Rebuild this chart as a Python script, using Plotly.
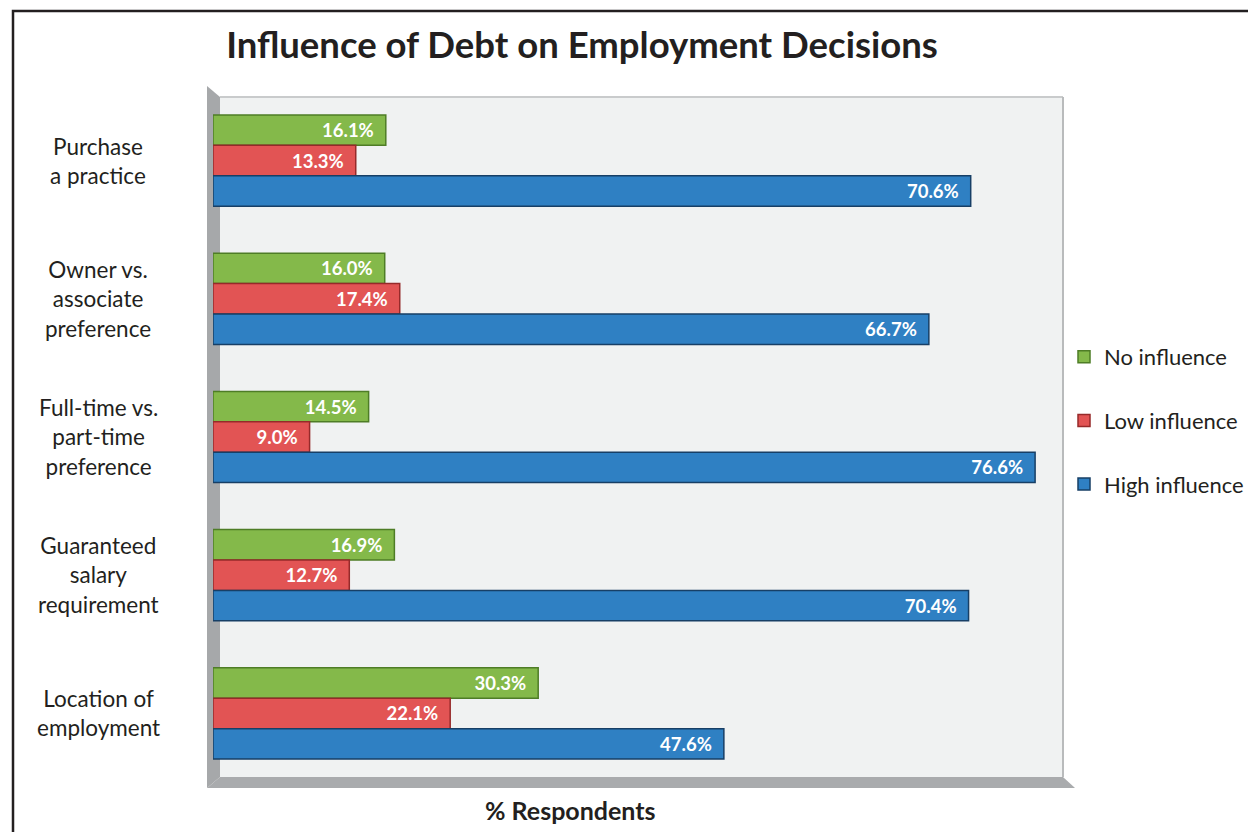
import plotly.graph_objects as go

categories = ["Purchase a practice", "Owner vs. associate preference",
              "Full-time vs. part-time preference", "Guaranteed salary requirement",
              "Location of employment"]
category_labels = ["Purchase<br>a practice", "Owner vs.<br>associate<br>preference",
                   "Full-time vs.<br>part-time<br>preference", "Guaranteed<br>salary<br>requirement",
                   "Location of<br>employment"]
no_influence = [16.1, 16.0, 14.5, 16.9, 30.3]
low_influence = [13.3, 17.4, 9.0, 12.7, 22.1]
high_influence = [70.6, 66.7, 76.6, 70.4, 47.6]
series_names = ["No influence", "Low influence", "High influence"]

FONT = "Lato"
W, H = 1248, 832
L, R, T, B = 213, 1063, 97, 777  # plot area in pixels


def px(x):
    return (x - L) / (R - L)


def py(y):
    return (B - y) / (B - T)


fig = go.Figure()
styles = [("#84b94a", "#4e7d26"), ("#e25454", "#962a2a"), ("#2f80c3", "#173f66")]
for name, vals, (fill, edge) in zip(series_names, [no_influence, low_influence, high_influence], styles):
    fig.add_trace(go.Bar(
        y=categories, x=vals, name=name, orientation="h",
        marker=dict(color=fill, line=dict(color=edge, width=1.5)),
        text=[f"{v:.1f}%\u00a0\u00a0" for v in vals],
        textposition="inside", insidetextanchor="end",
        textfont=dict(family=FONT, size=18.5, color="white", weight="bold"),
        legendgroup=name, hoverinfo="x+name",
    ))

shapes = [
    # outer frame
    dict(type="rect", xref="paper", yref="paper", x0=px(13), x1=px(1290), y0=py(860), y1=py(11),
         line=dict(color="#231f20", width=2.5), layer="below"),
    # side wall
    dict(type="path", xref="paper", yref="paper",
         path=f"M {px(207)},{py(86)} L {px(220)},{py(97)} L {px(220)},{py(777)} L {px(207)},{py(788)} Z",
         fillcolor="#a6a8aa", line=dict(width=0), layer="below"),
    # floor
    dict(type="path", xref="paper", yref="paper",
         path=f"M {px(207)},{py(788)} L {px(220)},{py(777)} L {px(1063)},{py(777)} L {px(1075)},{py(788)} Z",
         fillcolor="#a9abad", line=dict(width=0), layer="below"),
    # back wall edges
    dict(type="line", xref="paper", yref="paper", x0=px(220), x1=px(1063), y0=1, y1=1,
         line=dict(color="#c9cbcc", width=2)),
    dict(type="line", xref="paper", yref="paper", x0=1, x1=1, y0=0, y1=1,
         line=dict(color="#b9bbbc", width=2)),
]

annotations = [
    dict(xref="paper", yref="y", x=px(98), y=c, text=lab, showarrow=False,
         xanchor="center", yanchor="middle", align="center",
         font=dict(family=FONT, size=22.5, color="#231f20"))
    for c, lab in zip(categories, category_labels)
]
annotations.append(dict(xref="paper", yref="paper", x=px(570), y=py(810), text="<b>% Respondents</b>",
                        showarrow=False, xanchor="center", yanchor="middle",
                        font=dict(family=FONT, size=25, color="#231f20")))

fig.update_layout(
    width=W, height=H,
    margin=dict(l=L, r=W - R, t=T, b=H - B, pad=0, autoexpand=False),
    paper_bgcolor="white", plot_bgcolor="#f0f2f2",
    barmode="group", bargap=0.34, bargroupgap=0.0,
    title=dict(text="<b>Influence of Debt on Employment Decisions</b>", x=px(582), xref="paper",
               xanchor="center", y=1 - 45 / H, yref="container", yanchor="middle",
               font=dict(family=FONT, size=36.5, color="#231f20")),
    xaxis=dict(range=[0, 79.2], showgrid=False, zeroline=False, showticklabels=False, ticks="",
               fixedrange=True),
    yaxis=dict(type="category", categoryorder="array", categoryarray=categories,
               range=[4.46, -0.46], showgrid=False, zeroline=False, showticklabels=False, ticks=""),
    legend=dict(x=px(1064), y=py(336), xanchor="left", yanchor="top", xref="paper", yref="paper",
                font=dict(family=FONT, size=22, color="#231f20"), tracegroupgap=32,
                bgcolor="rgba(0,0,0,0)", itemwidth=30),
    shapes=shapes, annotations=annotations,
    font=dict(family=FONT),
)

fig.write_html("out.html")
